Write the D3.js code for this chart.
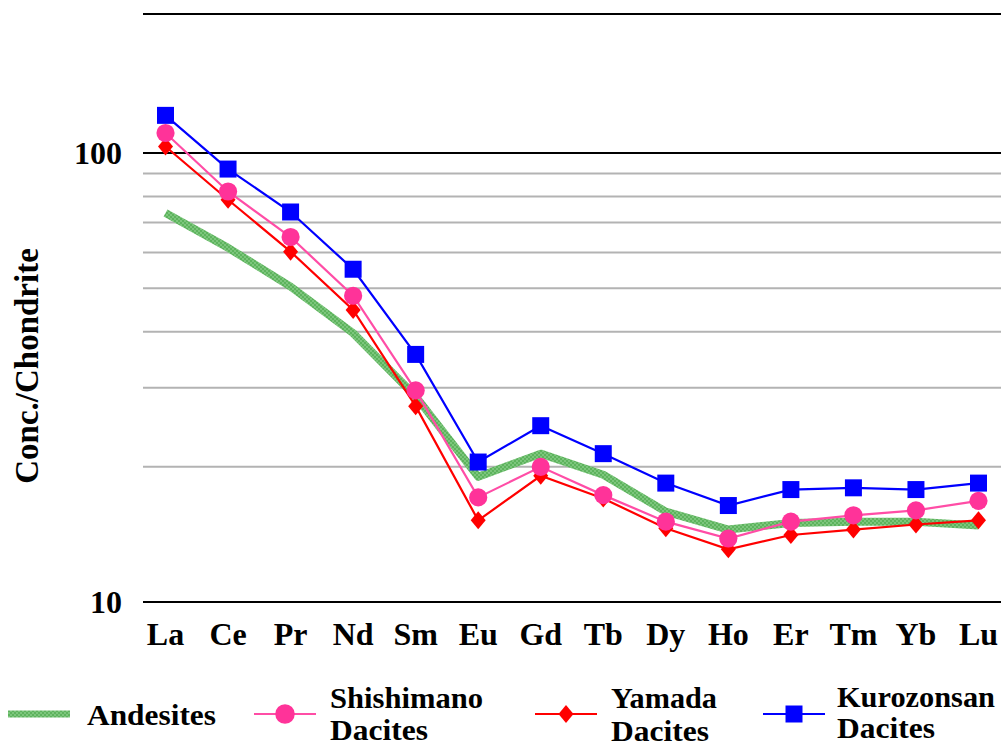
<!DOCTYPE html>
<html>
<head>
<meta charset="utf-8">
<script src="https://cdn.jsdelivr.net/npm/d3@7"></script>
<style>
  html, body { margin: 0; padding: 0; background: #fff; }
  svg { display: block; }
  text { font-family: "Liberation Serif", "Times New Roman", serif; font-weight: bold; fill: #000; }
</style>
</head>
<body>
<svg id="chart" width="1006" height="747"></svg>
<script>
// Chondrite-normalised REE patterns
const elements = ["La","Ce","Pr","Nd","Sm","Eu","Gd","Tb","Dy","Ho","Er","Tm","Yb","Lu"];

const andesites  = [73.5, 61.5, 50.4, 39.7, 28.7, 19.0, 21.4, 19.2, 15.9, 14.5, 15.0, 15.1, 15.1, 14.8];
const shishimano = [110.8, 82.1, 65.0, 48.1, 29.6, 17.1, 20.0, 17.3, 15.1, 13.85, 15.1, 15.6, 16.0, 16.8];
const yamada     = [103.4, 78.7, 60.3, 44.7, 27.3, 15.2, 19.1, 17.0, 14.6, 13.1, 14.1, 14.5, 14.88, 15.2];
const kurozonsan = [121.3, 92.1, 73.9, 55.1, 35.6, 20.5, 24.7, 21.4, 18.4, 16.4, 17.8, 17.96, 17.8, 18.4];

const yTickLabels = [10, 100];
const minorGrid = [20, 30, 40, 50, 60, 70, 80, 90];
const yMin = 10, yMax = 204;

const svg = d3.select("#chart");

const plot = { left: 143, right: 1001, top: 14, bottom: 602 };

const x = d3.scalePoint().domain(elements).range([plot.left, plot.right]).padding(0.36);
const y = d3.scaleLog().domain([yMin, yMax]).range([plot.bottom, plot.top]);

// hatched fill for the andesite band
const defs = svg.append("defs");
const pat = defs.append("pattern").attr("id", "andesiteTex")
  .attr("patternUnits", "userSpaceOnUse").attr("width", 4).attr("height", 4);
pat.append("rect").attr("width", 4).attr("height", 4).attr("fill", "#5db35d");
pat.append("rect").attr("x", 0).attr("y", 0).attr("width", 2).attr("height", 2).attr("fill", "#7cc67c");
pat.append("rect").attr("x", 2).attr("y", 2).attr("width", 2).attr("height", 2).attr("fill", "#7cc67c");

// gridlines
svg.append("g").selectAll("line").data(minorGrid).join("line")
  .attr("x1", plot.left).attr("x2", plot.right)
  .attr("y1", d => y(d)).attr("y2", d => y(d))
  .attr("stroke", "#b3b3b3").attr("stroke-width", 2);

svg.append("g").selectAll("line").data([10, 100, yMax]).join("line")
  .attr("x1", plot.left).attr("x2", plot.right)
  .attr("y1", d => y(d)).attr("y2", d => y(d))
  .attr("stroke", "#000").attr("stroke-width", 2.2);

// y tick labels
svg.append("g").selectAll("text").data(yTickLabels).join("text")
  .attr("x", 122).attr("y", d => y(d)).attr("dy", "0.33em")
  .attr("text-anchor", "end").attr("font-size", 32)
  .text(d => d);

// category labels
svg.append("g").selectAll("text").data(elements).join("text")
  .attr("x", d => x(d)).attr("y", 645)
  .attr("text-anchor", "middle").attr("font-size", 32)
  .text(d => d);

// axis title
svg.append("text")
  .attr("transform", "translate(38,366) rotate(-90)")
  .attr("text-anchor", "middle").attr("font-size", 33)
  .text("Conc./Chondrite");

const line = d3.line().x((d, i) => x(elements[i])).y(d => y(d));

// Andesites: wide textured band, no markers
svg.append("path").datum(andesites)
  .attr("d", line).attr("fill", "none")
  .attr("stroke", "url(#andesiteTex)").attr("stroke-width", 8)
  .attr("stroke-linejoin", "round");

function drawSeries(data, color, lineColor, marker) {
  const g = svg.append("g");
  g.append("path").datum(data)
    .attr("d", line).attr("fill", "none")
    .attr("stroke", lineColor).attr("stroke-width", 2.2);
  g.selectAll(".m").data(data).join("path")
    .attr("class", "m")
    .attr("transform", (d, i) => `translate(${x(elements[i])},${y(d)})`)
    .attr("d", marker)
    .attr("fill", color);
}

const circle = d3.symbol().type(d3.symbolCircle).size(260)();
const legendCircle = d3.symbol().type(d3.symbolCircle).size(300)();
const diamond = "M0,-9L7.5,0L0,9L-7.5,0Z";
const square = "M-8.5,-8.5H8.5V8.5H-8.5Z";

drawSeries(yamada, "#ff0000", "#ff0000", diamond);
drawSeries(shishimano, "#ff3399", "#ff4da6", circle);
drawSeries(kurozonsan, "#0000ff", "#0000ff", square);

// legend
const legend = svg.append("g");
const ly = 714;
const lfs = 28.5;

legend.append("line").attr("x1", 8).attr("x2", 70).attr("y1", ly).attr("y2", ly)
  .attr("stroke", "url(#andesiteTex)").attr("stroke-width", 7);
legend.append("text").attr("x", 87).attr("y", ly + 11).attr("font-size", lfs)
  .attr("textLength", 129).attr("lengthAdjust", "spacingAndGlyphs").text("Andesites");

const legendItems = [
  { x0: 254, name: ["Shishimano", "Dacites"], len: [153, 98], color: "#ff3399", lineColor: "#ff4da6", marker: legendCircle, tx: 330, y1: 708, y2: 740 },
  { x0: 535, name: ["Yamada", "Dacites"], len: [106, 98], color: "#ff0000", lineColor: "#ff0000", marker: diamond, tx: 611, y1: 708, y2: 741 },
  { x0: 763, name: ["Kurozonsan", "Dacites"], len: [158, 98], color: "#0000ff", lineColor: "#0000ff", marker: square, tx: 837, y1: 707, y2: 738 }
];

legendItems.forEach(it => {
  legend.append("line").attr("x1", it.x0).attr("x2", it.x0 + 62)
    .attr("y1", ly).attr("y2", ly)
    .attr("stroke", it.lineColor).attr("stroke-width", 2.2);
  legend.append("path").attr("d", it.marker)
    .attr("transform", `translate(${it.x0 + 31},${ly})`)
    .attr("fill", it.color);
  legend.append("text").attr("x", it.tx).attr("y", it.y1).attr("font-size", lfs)
    .attr("textLength", it.len[0]).attr("lengthAdjust", "spacingAndGlyphs").text(it.name[0]);
  legend.append("text").attr("x", it.tx).attr("y", it.y2).attr("font-size", lfs)
    .attr("textLength", it.len[1]).attr("lengthAdjust", "spacingAndGlyphs").text(it.name[1]);
});
</script>
</body>
</html>
